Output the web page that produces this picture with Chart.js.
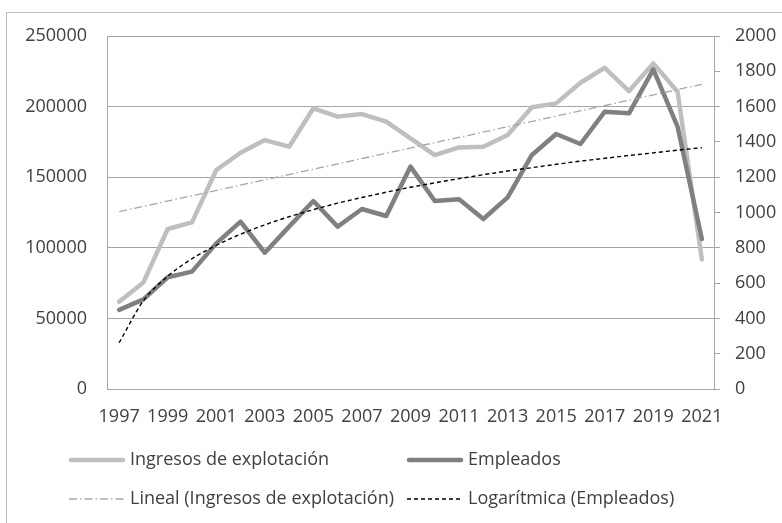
<!DOCTYPE html>
<html>
<head>
<meta charset="utf-8">
<script src="https://cdn.jsdelivr.net/npm/chart.js@4/dist/chart.umd.min.js"></script>
<style>
    body { margin: 0; background: #ffffff; }
    #wrap { width: 782px; height: 523px; position: relative; }
</style>
</head>
<body>
<div id="wrap"><canvas id="chart" width="782" height="523"></canvas></div>
<script>
const years = ['1997', '1998', '1999', '2000', '2001', '2002', '2003', '2004', '2005', '2006', '2007', '2008', '2009',
    '2010', '2011', '2012', '2013', '2014', '2015', '2016', '2017', '2018', '2019', '2020', '2021'];

const ingresos = [61800, 75500, 113300, 118000, 155100, 167300, 176300, 171600, 198800, 192900, 194700, 189300, 177500,
    165700, 171100, 171600, 179900, 199500, 202300, 216900, 227500, 211000, 230600, 210500, 91800];

const empleados = [448, 508, 633, 665, 825, 948, 772, 920, 1065, 920, 1020, 980, 1260,
    1065, 1075, 963, 1086, 1326, 1445, 1388, 1571, 1562, 1811, 1486, 850];

// trend lines
const linealTrend = [125600, 215800];
const logTrend = [262, 500, 639, 738, 814, 877, 930, 976, 1016, 1053, 1085, 1115, 1143,
    1168, 1192, 1214, 1235, 1254, 1273, 1291, 1307, 1323, 1338, 1353, 1367];

const leftTicks = [0, 50000, 100000, 150000, 200000, 250000];
const rightTicks = [0, 200, 400, 600, 800, 1000, 1200, 1400, 1600, 1800, 2000];

const seriesLabels = ['Ingresos de explotación', 'Empleados', 'Lineal (Ingresos de explotación)', 'Logarítmica (Empleados)'];

const FONT = { family: '"Open Sans", sans-serif', size: 18 };
const TEXT_COLOR = '#404040';
const GRID_COLOR = '#a6a6a6';

const styles = [
    { color: '#bfbfbf', width: 4.5, dash: [] },
    { color: '#808080', width: 4.5, dash: [] },
    { color: '#a6a6a6', width: 1.3, dash: [8, 3, 1.5, 3] },
    { color: '#000000', width: 1.4, dash: [4, 3] }
];

// frame round the whole chart
const framePlugin = {
    id: 'frame',
    beforeDraw(chart) {
        const ctx = chart.ctx;
        ctx.save();
        ctx.strokeStyle = '#bfbfbf';
        ctx.lineWidth = 1;
        ctx.strokeRect(6.5, 12.5, 900, 700);
        ctx.restore();
    }
};

// legend laid out as a 2x2 grid like the original
const gridLegendPlugin = {
    id: 'gridLegend',
    afterDraw(chart) {
        const ctx = chart.ctx;
        const cols = [69, 407];
        const rows = [460, 499];
        const sampleLen = 56;
        ctx.save();
        ctx.font = `${FONT.size}px ${FONT.family}`;
        ctx.textBaseline = 'middle';
        ctx.textAlign = 'left';
        seriesLabels.forEach((label, i) => {
            const x = cols[i % 2];
            const y = rows[Math.floor(i / 2)];
            const s = styles[i];
            ctx.strokeStyle = s.color;
            ctx.lineWidth = s.width;
            ctx.lineCap = i < 2 ? 'round' : 'butt';
            ctx.setLineDash(s.dash);
            ctx.beginPath();
            ctx.moveTo(x + (i < 2 ? 2 : 0), y);
            ctx.lineTo(x + sampleLen - (i < 2 ? 2 : 0), y);
            ctx.stroke();
            ctx.setLineDash([]);
            ctx.fillStyle = TEXT_COLOR;
            ctx.fillText(label, x + sampleLen + 5, y);
        });
        ctx.restore();
    }
};

const ctx = document.getElementById('chart').getContext('2d');

const chart = new Chart(ctx, {
    type: 'line',
    data: {
        labels: years,
        datasets: [
            {
                label: seriesLabels[0],
                data: ingresos,
                yAxisID: 'y',
                borderColor: styles[0].color,
                borderWidth: styles[0].width,
                pointRadius: 0,
                borderJoinStyle: 'round',
                borderCapStyle: 'round',
                tension: 0,
                order: 4
            },
            {
                label: seriesLabels[1],
                data: empleados,
                yAxisID: 'y1',
                borderColor: styles[1].color,
                borderWidth: styles[1].width,
                pointRadius: 0,
                borderJoinStyle: 'round',
                borderCapStyle: 'round',
                tension: 0,
                order: 3
            },
            {
                label: seriesLabels[2],
                data: [
                    { x: years[0], y: linealTrend[0] },
                    { x: years[years.length - 1], y: linealTrend[1] }
                ],
                yAxisID: 'y',
                borderColor: styles[2].color,
                borderWidth: styles[2].width,
                borderDash: styles[2].dash,
                pointRadius: 0,
                tension: 0,
                order: 2
            },
            {
                label: seriesLabels[3],
                data: logTrend,
                yAxisID: 'y1',
                borderColor: styles[3].color,
                borderWidth: styles[3].width,
                borderDash: styles[3].dash,
                pointRadius: 0,
                cubicInterpolationMode: 'monotone',
                order: 1
            }
        ]
    },
    options: {
        responsive: false,
        devicePixelRatio: 1,
        animation: false,
        layout: {
            padding: { top: 36, left: 0, right: 0, bottom: 0 }
        },
        plugins: {
            legend: { display: false },
            tooltip: { enabled: false }
        },
        scales: {
            x: {
                type: 'category',
                offset: true,
                grid: { display: false, drawTicks: false },
                border: { display: true, color: GRID_COLOR, width: 1 },
                ticks: {
                    autoSkip: false,
                    maxRotation: 0,
                    padding: 17,
                    color: TEXT_COLOR,
                    font: FONT,
                    callback: function(value, index) {
                        return index % 2 === 0 ? years[index] : '';
                    }
                },
                afterFit: function(scale) {
                    scale.height = 134;
                }
            },
            y: {
                position: 'left',
                min: 0,
                max: 250000,
                afterBuildTicks: function(scale) {
                    scale.ticks = leftTicks.map(v => ({ value: v }));
                },
                grid: { color: GRID_COLOR, drawTicks: false, lineWidth: 1 },
                border: { display: true, color: GRID_COLOR, width: 1 },
                ticks: {
                    padding: 20,
                    color: TEXT_COLOR,
                    font: FONT,
                    callback: function(value) { return String(value); }
                },
                afterFit: function(scale) {
                    scale.width = 107;
                }
            },
            y1: {
                position: 'right',
                min: 0,
                max: 2000,
                afterBuildTicks: function(scale) {
                    scale.ticks = rightTicks.map(v => ({ value: v }));
                },
                grid: { drawOnChartArea: false, drawTicks: true, tickLength: 6, color: GRID_COLOR },
                border: { display: true, color: GRID_COLOR, width: 1 },
                ticks: {
                    padding: 15,
                    color: TEXT_COLOR,
                    font: FONT,
                    callback: function(value) { return String(value); }
                },
                afterFit: function(scale) {
                    scale.width = 68;
                }
            }
        }
    },
    plugins: [framePlugin, gridLegendPlugin]
});
</script>
</body>
</html>
